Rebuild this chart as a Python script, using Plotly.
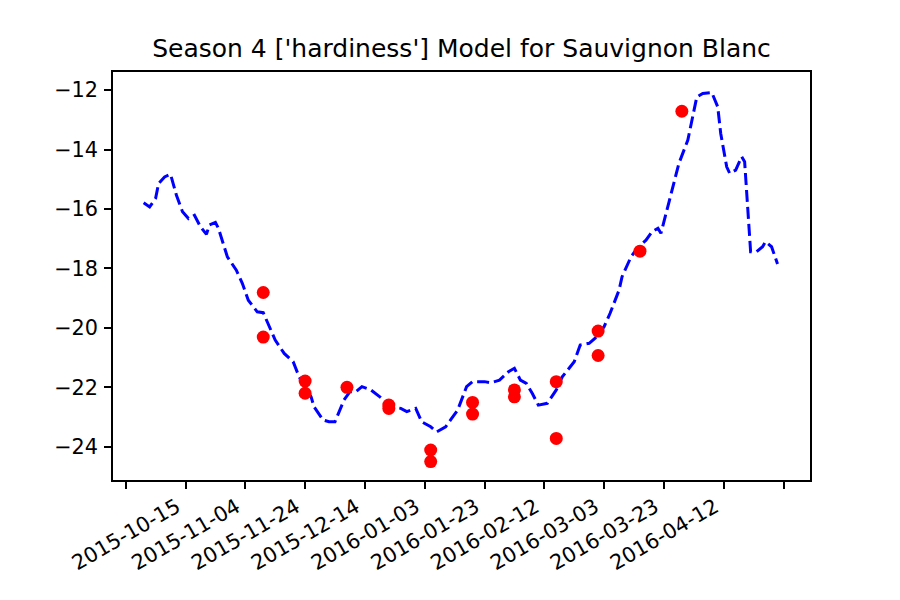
import plotly.graph_objects as go

# Model line (daily hardiness estimate)
model_dates = [
    "2015-10-21", "2015-10-23", "2015-10-25", "2015-10-26", "2015-10-28", "2015-10-30",
    "2015-11-01", "2015-11-03", "2015-11-05", "2015-11-07", "2015-11-09", "2015-11-11",
    "2015-11-12", "2015-11-14", "2015-11-15", "2015-11-18", "2015-11-21", "2015-11-23",
    "2015-11-25", "2015-11-28", "2015-11-30", "2015-12-02", "2015-12-04", "2015-12-07",
    "2015-12-10", "2015-12-12", "2015-12-16", "2015-12-17", "2015-12-20", "2015-12-22",
    "2015-12-24", "2015-12-27", "2015-12-29", "2015-12-31", "2016-01-02", "2016-01-05",
    "2016-01-08", "2016-01-12", "2016-01-15", "2016-01-17", "2016-01-20", "2016-01-22",
    "2016-01-25", "2016-01-27", "2016-01-30", "2016-02-01", "2016-02-03", "2016-02-06",
    "2016-02-08", "2016-02-12", "2016-02-14", "2016-02-17", "2016-02-20", "2016-02-22",
    "2016-02-24", "2016-02-26", "2016-02-28", "2016-03-01", "2016-03-04", "2016-03-07",
    "2016-03-09", "2016-03-13", "2016-03-15", "2016-03-18", "2016-03-20", "2016-03-23",
    "2016-03-25", "2016-03-28", "2016-03-29", "2016-04-01", "2016-04-03", "2016-04-06",
    "2016-04-08", "2016-04-10", "2016-04-11", "2016-04-13", "2016-04-15", "2016-04-17",
    "2016-04-20", "2016-04-22", "2016-04-23", "2016-04-25", "2016-04-28", "2016-04-30",
    "2016-05-01", "2016-05-03", "2016-05-04", "2016-05-06", "2016-05-08", "2016-05-09",
    "2016-05-10", "2016-05-11", "2016-05-13", "2016-05-15", "2016-05-16", "2016-05-18",
    "2016-05-20",
]
model_values = [
    -15.79, -15.93, -15.64, -15.14, -14.92, -14.83,
    -15.55, -16.09, -16.32, -16.21, -16.60, -16.85,
    -16.54, -16.45, -16.65, -17.61, -18.06, -18.50,
    -19.07, -19.46, -19.49, -19.96, -20.41, -20.86,
    -21.14, -21.65, -22.32, -22.66, -23.10, -23.16,
    -23.16, -22.43, -22.15, -22.15, -21.98, -22.09,
    -22.32, -22.66, -22.71, -22.82, -22.71, -23.16,
    -23.33, -23.50, -23.33, -23.05, -22.77, -21.98,
    -21.81, -21.81, -21.85, -21.76, -21.48, -21.36,
    -21.76, -21.87, -22.21, -22.60, -22.54, -22.09,
    -21.65, -21.14, -20.58, -20.52, -20.35, -19.96,
    -19.51, -18.73, -18.28, -17.61, -17.33, -17.05,
    -16.77, -16.65, -16.82, -16.04, -15.25, -14.47,
    -13.68, -12.78, -12.23, -12.11, -12.08, -12.56,
    -13.46, -14.58, -14.80, -14.69, -14.24, -14.41,
    -15.93, -17.44, -17.44, -17.27, -17.10, -17.27,
    -17.85,
]

# Observed hardiness (red dots)
obs_dates = [
    "2015-11-30", "2015-11-30", "2015-12-14", "2015-12-14", "2015-12-28",
    "2016-01-11", "2016-01-11", "2016-01-25", "2016-01-25", "2016-02-08",
    "2016-02-08", "2016-02-22", "2016-02-22", "2016-03-07", "2016-03-07",
    "2016-03-21", "2016-03-21", "2016-04-04", "2016-04-18",
]
obs_values = [
    -18.81, -20.31, -21.79, -22.20, -22.00,
    -22.60, -22.71, -24.11, -24.50, -22.51,
    -22.90, -22.09, -22.32, -21.81, -23.72,
    -20.11, -20.93, -17.42, -12.71,
]

# Axis ticks
x_tick_values = [
    "2015-10-15", "2015-11-04", "2015-11-24", "2015-12-14", "2016-01-03", "2016-01-23",
    "2016-02-12", "2016-03-03", "2016-03-23", "2016-04-12", "2016-05-02", "2016-05-22",
]
x_tick_labels = [
    "2015-10-15", "2015-11-04", "2015-11-24", "2015-12-14", "2016-01-03", "2016-01-23",
    "2016-02-12", "2016-03-03", "2016-03-23", "2016-04-12", "", "",
]
y_tick_values = [-24, -22, -20, -18, -16, -14, -12]

title_text = "Season 4 ['hardiness'] Model for Sauvignon Blanc"

fig = go.Figure()
fig.add_trace(go.Scatter(
    x=model_dates, y=model_values, mode="lines",
    line=dict(color="#0000ff", width=3, dash="12px,5px"),
    showlegend=False,
))
fig.add_trace(go.Scatter(
    x=obs_dates, y=obs_values, mode="markers",
    marker=dict(color="#ff0000", size=13, line=dict(width=0)),
    showlegend=False,
))

font_family = "DejaVu Sans"
fig.update_layout(
    width=900, height=600,
    margin=dict(l=105, r=98, t=64, b=128, autoexpand=False),
    paper_bgcolor="white", plot_bgcolor="white",
    font=dict(family=font_family, color="black", size=20.8),
    title=dict(text=title_text, x=0.5, xref="paper", y=1 - 40 / 600, yref="container",
               xanchor="center", yanchor="middle",
               font=dict(family=font_family, size=25, color="black")),
)
fig.update_xaxes(
    type="date",
    range=["2015-10-10 18:00", "2016-05-30 20:40"],
    tickmode="array", tickvals=x_tick_values, ticktext=x_tick_labels,
    tickangle=-30, ticklabelshift=51, ticklabelstandoff=-2,
    ticks="outside", ticklen=7, tickwidth=1.6, tickcolor="black",
    showline=True, linewidth=1.6, linecolor="black", mirror=True,
    showgrid=False, zeroline=False,
    tickfont=dict(family=font_family, size=20.8, color="black"),
)
fig.update_yaxes(
    range=[-25.12, -11.39],
    tickmode="array", tickvals=y_tick_values,
    ticks="outside", ticklen=7, tickwidth=1.6, tickcolor="black",
    ticklabelstandoff=2,
    showline=True, linewidth=1.6, linecolor="black", mirror=True,
    showgrid=False, zeroline=False,
    tickfont=dict(family=font_family, size=20.8, color="black"),
)

fig.write_html("out.html")
